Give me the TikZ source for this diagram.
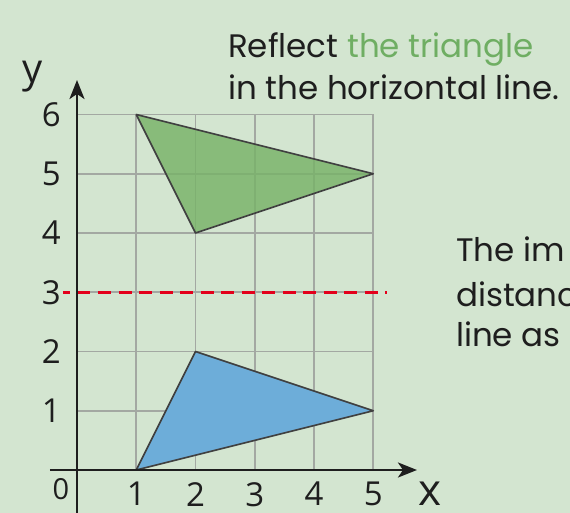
\documentclass[tikz,border=0pt]{standalone}
\usepackage{fontspec}
\setmainfont{Open Sans}
\newfontfamily\handfont{Poppins}
\usetikzlibrary{arrows.meta}
\definecolor{bgc}{HTML}{D3E5D0}
\definecolor{gridc}{HTML}{A3A8A2}
\definecolor{greenf}{HTML}{78B268}
\definecolor{bluef}{HTML}{6DADD9}
\definecolor{redd}{HTML}{E3001B}
\definecolor{txtgreen}{HTML}{6FAE63}
\definecolor{axisc}{HTML}{1E1E1E}
\tikzset{
  gridline/.style={draw=gridc, line width=1.6pt},
  axisline/.style={draw=axisc, line width=2.8pt, -{Stealth[length=19pt,width=15pt,inset=5pt]}},
  trioutline/.style={draw=axisc!85, line width=1.6pt, line join=round},
  numlbl/.style={font=\fontsize{33}{33}\selectfont, text=axisc, inner sep=0pt},
  handtxt/.style={font=\handfont\fontsize{32.5}{36}\selectfont, text=axisc, inner sep=0pt, anchor=base west},
}
\begin{document}
\begin{tikzpicture}[x=59.25pt,y=59.25pt]
\useasboundingbox (-77pt,-43pt) rectangle (493pt,470pt);
\fill[bgc] (-77pt,-43pt) rectangle (493pt,470pt);
\clip (-77pt,-43pt) rectangle (493pt,470pt);
% grid
\foreach \i in {1,...,5} \draw[gridline] (\i,0) -- (\i,6);
\foreach \j in {1,...,6} \draw[gridline] (0,\j) -- (5,\j);
% green triangle (transparent)
\coordinate (g1) at (1,6);
\coordinate (g2) at (5,5);
\coordinate (g3) at (2,4);
\fill[greenf, fill opacity=0.82] (g1) -- (g2) -- (g3) -- cycle;
\draw[trioutline] (g1) -- (g2) -- (g3) -- cycle;
% blue triangle
\coordinate (b1) at (1,0);
\coordinate (b2) at (2,2);
\coordinate (b3) at (5,1);
\fill[bluef] (b1) -- (b2) -- (b3) -- cycle;
\draw[trioutline] (b1) -- (b2) -- (b3) -- cycle;
% dashed mirror line
\coordinate (m1) at (-14pt,3);
\coordinate (m2) at (310pt,3);
\draw[redd, line width=2.8pt, dash pattern=on 13pt off 7.5pt, dash phase=6pt] (m1) -- (m2);
% axes
\coordinate (xs) at (-27pt,0);
\coordinate (xe) at (340pt,0);
\coordinate (ys) at (0,-50pt);
\coordinate (ye) at (0,390pt);
\draw[axisline] (xs) -- (xe);
\draw[axisline] (ys) -- (ye);
% labels
\foreach \i in {1,...,5} \node[numlbl, anchor=north] (xl\i) at (\i,-12pt) {\i};
\foreach \j in {1,...,6} \node[numlbl, anchor=east] (yl\j) at (-16pt,\j) {\j};
\node[font=\fontsize{29}{29}\selectfont, text=axisc, inner sep=0pt, anchor=north] (zero) at (-16pt,-8pt) {0};
\node[font=\fontsize{44}{44}\selectfont, text=axisc, inner sep=0pt, anchor=base] (xlab) at (353pt,-36pt) {x};
\node[font=\fontsize{40}{40}\selectfont, text=axisc, inner sep=0pt, anchor=base] (ylab) at (-44pt,387pt) {y};
% texts
\node[handtxt] (t1) at (151pt,412pt) {Reflect \textcolor{txtgreen}{the triangle}};
\node[handtxt] (t2) at (151pt,370pt) {in the horizontal line.};
\node[handtxt] (t3) at (379pt,208pt) {The im};
\node[handtxt] (t4) at (379pt,163pt) {distanc};
\node[handtxt] (t5) at (379pt,123pt) {line as};
\end{tikzpicture}
\end{document}
